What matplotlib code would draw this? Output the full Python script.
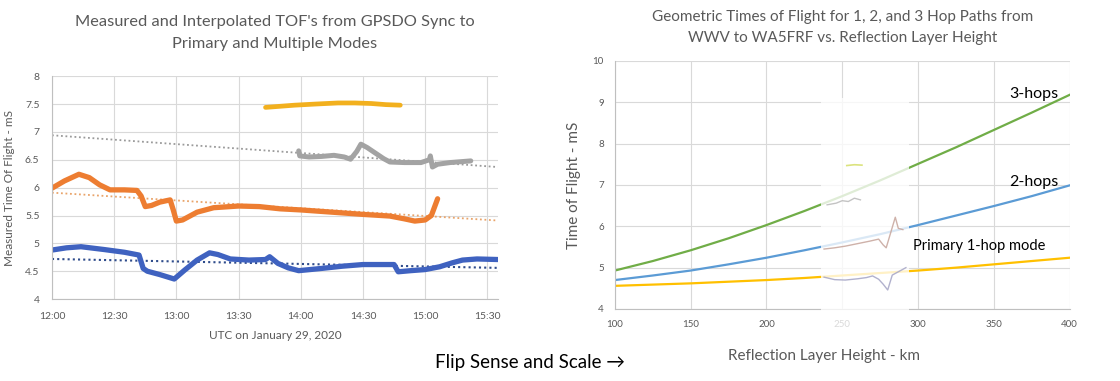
import matplotlib
matplotlib.use("Agg")
import matplotlib.pyplot as plt
import matplotlib.dates as mdates
import pandas as pd
from matplotlib.patches import Rectangle

plt.rcParams['font.family'] = ['Lato', 'DejaVu Sans']

# ---- left chart: measured TOF (minutes after 12:00 UTC) ----
blue_min = [0, 7, 14, 25, 35, 42, 44, 46, 52, 59, 64, 70, 76, 80, 86, 95, 103, 105, 109,
            114, 119, 130, 140, 150, 165, 167, 173, 180, 187, 193, 198, 205, 215]
blue_tof = [4.88, 4.92, 4.94, 4.89, 4.84, 4.79, 4.55, 4.50, 4.44, 4.36, 4.52, 4.70, 4.83,
            4.80, 4.72, 4.70, 4.71, 4.76, 4.64, 4.56, 4.51, 4.55, 4.59, 4.62, 4.62, 4.49,
            4.51, 4.53, 4.58, 4.65, 4.70, 4.72, 4.71]

orange_min = [0, 6, 13, 18, 23, 28, 35, 41, 43, 45, 48, 52, 57, 58.5, 60, 63, 70, 78, 90,
              100, 110, 120, 135, 150, 163, 170, 175, 180, 183, 186]
orange_tof = [5.99, 6.12, 6.24, 6.18, 6.05, 5.96, 5.96, 5.95, 5.85, 5.66, 5.68, 5.74, 5.78,
              5.60, 5.40, 5.42, 5.56, 5.64, 5.67, 5.66, 5.62, 5.60, 5.56, 5.52, 5.49, 5.44,
              5.40, 5.42, 5.50, 5.80]

gray_min = [119, 119.5, 124, 130, 136, 141, 144, 147, 149, 152, 156, 160, 163, 170, 178,
            182, 182.5, 183.5, 186, 192, 202]
gray_tof = [6.66, 6.57, 6.55, 6.56, 6.58, 6.55, 6.51, 6.65, 6.78, 6.72, 6.62, 6.52, 6.46,
            6.45, 6.45, 6.50, 6.57, 6.37, 6.42, 6.45, 6.48]

gold_min = [103, 110, 117, 127, 138, 146, 154, 161, 168]
gold_tof = [7.44, 7.46, 7.48, 7.50, 7.52, 7.52, 7.51, 7.49, 7.48]

# interpolated (trend) lines, start/end
trend_min = [0, 215]
blue_trend = [4.72, 4.56]
orange_trend = [5.91, 5.41]
gray_trend = [6.94, 6.37]

# ---- right chart: geometric TOF vs layer height ----
height_km = [100, 125, 150, 175, 200, 225, 250, 275, 300, 325, 350, 375, 400]
hop1 = [4.56, 4.59, 4.62, 4.66, 4.70, 4.75, 4.81, 4.87, 4.93, 5.00, 5.08, 5.16, 5.24]
hop2 = [4.70, 4.81, 4.93, 5.08, 5.24, 5.42, 5.61, 5.81, 6.03, 6.26, 6.49, 6.73, 6.99]
hop3 = [4.93, 5.16, 5.42, 5.71, 6.03, 6.37, 6.73, 7.11, 7.51, 7.91, 8.33, 8.75, 9.18]

# faded pasted copy of the measured data (flipped and scaled) on the right chart
ov_orange_h = [238, 245, 252, 260, 268, 274, 277, 279, 282, 285, 287, 290]
ov_orange_v = [5.45, 5.48, 5.52, 5.58, 5.64, 5.69, 5.55, 5.48, 5.85, 6.22, 5.95, 5.92]
ov_blue_h = [238, 245, 252, 260, 266, 270, 274, 277, 280, 283, 287, 292]
ov_blue_v = [4.77, 4.71, 4.70, 4.73, 4.76, 4.80, 4.72, 4.60, 4.46, 4.82, 4.90, 5.00]
ov_gray_h = [240, 246, 250, 254, 258, 262]
ov_gray_v = [6.52, 6.56, 6.62, 6.60, 6.68, 6.64]
ov_gold_h = [253, 258, 263]
ov_gold_v = [7.47, 7.49, 7.48]

t0 = pd.Timestamp("2020-01-29 12:00")


def to_time(mins):
    return [t0 + pd.Timedelta(minutes=m) for m in mins]


fig = plt.figure(figsize=(11.2, 3.81), dpi=100)
txt = '#595959'
grid_c = '#d9d9d9'

# left chart
ax1 = fig.add_axes([0.0464, 0.215, 0.398, 0.585])
ax1.plot(to_time(trend_min), gray_trend, ls=(0, (1, 1.5)), color='#9a9a9a', lw=1.3)
ax1.plot(to_time(trend_min), orange_trend, ls=(0, (1, 1.5)), color='#e9a46a', lw=1.3)
ax1.plot(to_time(trend_min), blue_trend, ls=(0, (1, 1.5)), color='#2f4c8c', lw=1.5)
ax1.plot(to_time(gold_min), gold_tof, color='#f2b01e', lw=3.4, solid_capstyle='round')
ax1.plot(to_time(gray_min), gray_tof, color='#a3a3a3', lw=3.6, solid_capstyle='round')
ax1.plot(to_time(orange_min), orange_tof, color='#ed7d31', lw=3.8, solid_capstyle='round')
ax1.plot(to_time(blue_min), blue_tof, color='#3f62c0', lw=3.8, solid_capstyle='round')

ax1.set_xlim(t0, t0 + pd.Timedelta(minutes=215))
ax1.set_ylim(4, 8)
ax1.set_yticks([4, 4.5, 5, 5.5, 6, 6.5, 7, 7.5, 8])
ax1.set_yticklabels(['4', '4.5', '5', '5.5', '6', '6.5', '7', '7.5', '8'])
ax1.xaxis.set_major_locator(mdates.MinuteLocator(byminute=[0, 30]))
ax1.xaxis.set_major_formatter(mdates.DateFormatter('%H:%M'))
ax1.grid(True, color=grid_c, lw=0.8)
ax1.set_axisbelow(True)
for s in ['top', 'right']:
    ax1.spines[s].set_visible(False)
for s in ['left', 'bottom']:
    ax1.spines[s].set_color('#bfbfbf')
ax1.tick_params(length=0, labelsize=7.5, colors=txt, pad=9)
ax1.set_title("Measured and Interpolated TOF's from GPSDO Sync to\nPrimary and Multiple Modes",
              fontsize=11.8, color=txt, linespacing=1.75, pad=20)
ax1.set_xlabel('UTC on January 29, 2020', fontsize=8.5, color=txt, labelpad=7)
ax1.set_ylabel('Measured Time Of Flight - mS', fontsize=8.5, color=txt, labelpad=7)

# right chart
ax2 = fig.add_axes([0.549, 0.189, 0.406, 0.651])
ax2.plot(height_km, hop3, color='#70ad47', lw=1.6)
ax2.plot(height_km, hop2, color='#5b9bd5', lw=1.6)
ax2.plot(height_km, hop1, color='#ffc000', lw=1.6)
ax2.set_xlim(100, 400)
ax2.set_ylim(4, 10)
ax2.set_xticks([100, 150, 200, 250, 300, 350, 400])
ax2.set_yticks([4, 5, 6, 7, 8, 9, 10])
ax2.grid(True, color=grid_c, lw=0.8)
ax2.set_axisbelow(True)
for s in ['top', 'right']:
    ax2.spines[s].set_visible(False)
for s in ['left', 'bottom']:
    ax2.spines[s].set_color('#bfbfbf')
ax2.tick_params(length=0, labelsize=7, colors=txt, pad=8)
ax2.set_title("Geometric Times of Flight for 1, 2, and 3 Hop Paths from\nWWV to WA5FRF vs. Reflection Layer Height",
              fontsize=11, color=txt, linespacing=1.6, pad=14)
ax2.set_xlabel('Reflection Layer Height - km', fontsize=11, color=txt)
ax2.xaxis.set_label_coords(0.46, -0.16)
ax2.set_ylabel('Time of Flight - mS', fontsize=11, color=txt, labelpad=8)

# washed-out pasted region
ax2.add_patch(Rectangle((236, 3.5), 58, 5.6, facecolor='white', edgecolor='none',
                        alpha=0.78, zorder=5, clip_on=False))
ax2.plot(ov_gray_h, ov_gray_v, color='#b5b5b5', lw=1.0, alpha=0.8, zorder=6)
ax2.plot(ov_gold_h, ov_gold_v, color='#d8e070', lw=1.2, alpha=0.9, zorder=6)
ax2.plot(ov_orange_h, ov_orange_v, color='#c9a9a0', lw=1.0, alpha=0.9, zorder=6)
ax2.plot(ov_blue_h, ov_blue_v, color='#a9a9c8', lw=1.0, alpha=0.9, zorder=6)

ax2.text(360, 9.2, '3-hops', fontsize=11.5, color='black', va='center')
ax2.text(360, 7.07, '2-hops', fontsize=11.5, color='black', va='center')
ax2.text(296.5, 5.52, 'Primary 1-hop mode', fontsize=10.5, color='black', va='center')

fig.text(0.473, 0.035, 'Flip Sense and Scale \u2192', fontsize=13.5, color='black', ha='center')

fig.savefig('out.png', dpi=100)
